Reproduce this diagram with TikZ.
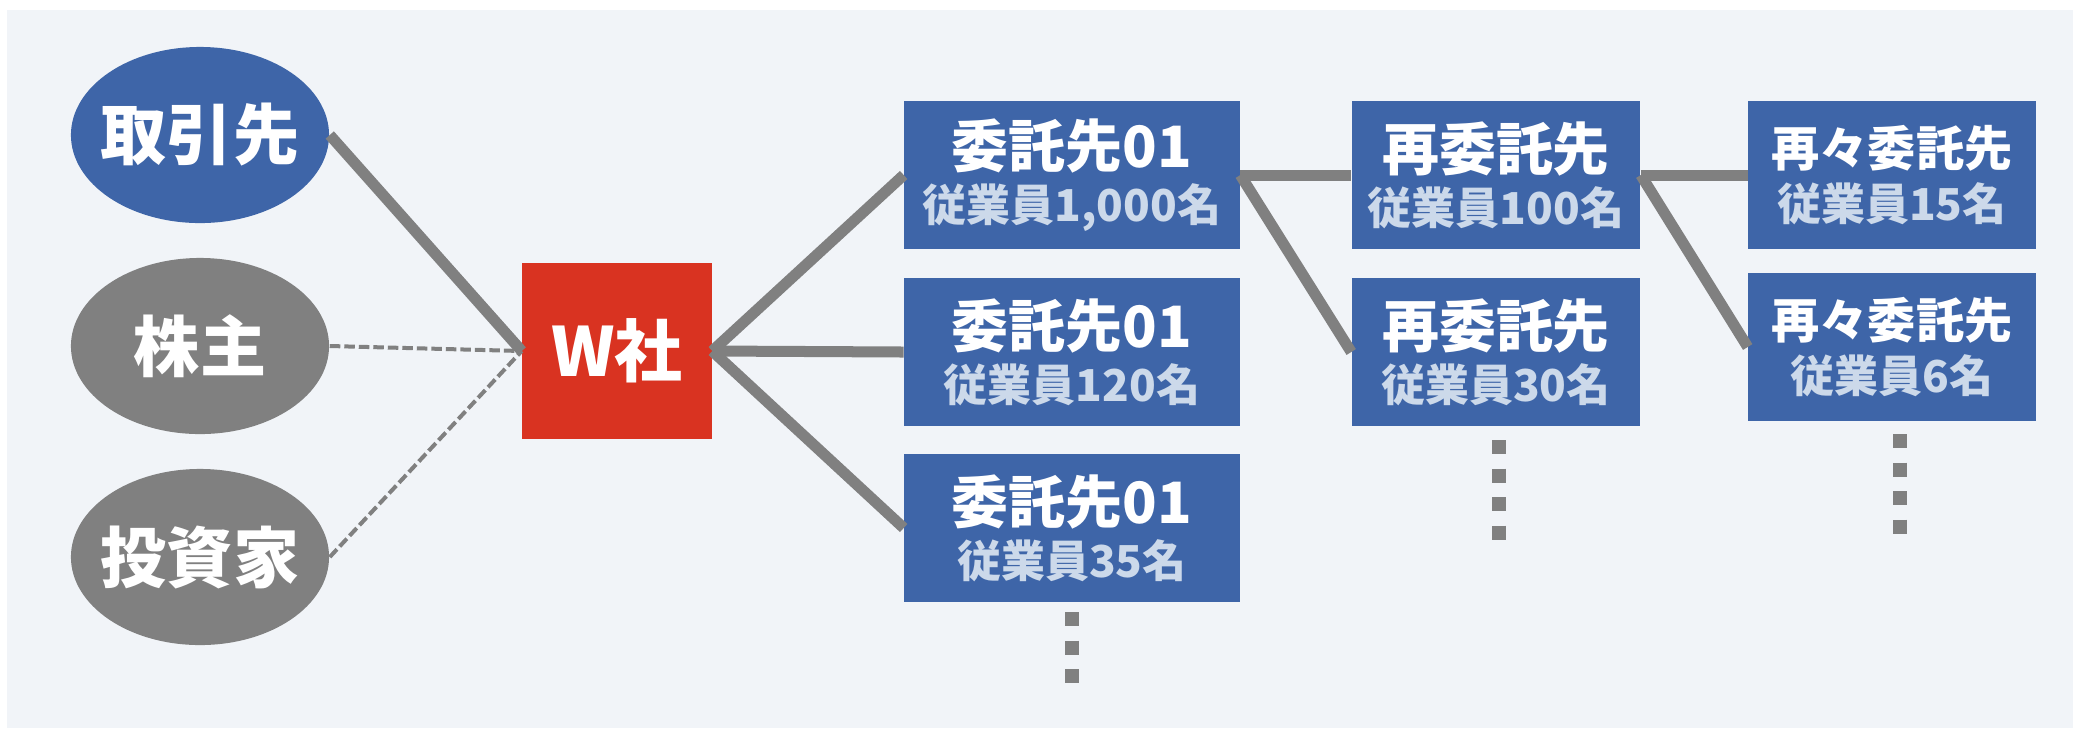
\documentclass[tikz,border=0pt]{standalone}
\usepackage{fontspec}
\setmainfont{Noto Sans CJK JP}
\usetikzlibrary{shapes.geometric}

\definecolor{haikei}{HTML}{F1F4F8}
\definecolor{aoi}{HTML}{3E65A8}
\definecolor{akai}{HTML}{D93321}
\definecolor{hai}{HTML}{808080}
\definecolor{usuao}{HTML}{CCD9EA}

% title line + staff line
\newcommand{\itakusaki}[3][16.2pt]{{\fontsize{#1}{15.4pt}\selectfont #2}\\{\color{usuao}#3}}
% text that does not widen the ellipse
\newcommand{\naka}[1]{\makebox[0pt]{#1}}

\begin{document}
\begin{tikzpicture}[
  x=0.01cm,y=-0.01cm,
  party/.style={ellipse,fill=#1,text=white,minimum width=2.58cm,minimum height=1.76cm,inner sep=0pt,font=\bfseries\fontsize{18.8pt}{22pt}\selectfont},
  company/.style={fill=akai,text=white,minimum width=1.89cm,minimum height=1.76cm,inner sep=0pt,font=\bfseries\fontsize{19.3pt}{22pt}\selectfont},
  contractor/.style={fill=aoi,text=white,minimum width=#1,minimum height=1.48cm,inner sep=0pt,align=center,font=\bfseries\fontsize{12.5pt}{15.4pt}\selectfont},
  contractor/.default=3.35cm,
  link/.style={hai,line width=0.11cm},
  weaklink/.style={hai,line width=0.04cm,dash pattern=on 0.105cm off 0.04cm},
  more/.style={hai,line width=0.14cm,dash pattern=on 0.14cm off 0.145cm}
]
  \useasboundingbox (0,0) rectangle (2084,738);
  \fill[haikei] (7,10) rectangle (2073,728);

  \node[party=aoi] (torihiki) at (200,135) {\naka{取引先}};
  \node[party=hai] (kabunushi) at (200,346) {\naka{株主}};
  \node[party=hai] (toshika) at (200,557) {\naka{投資家}};
  \node[company] (wsha) at (617,351) {W社};

  \node[contractor] (itaku1) at (1072,175) {\itakusaki{委託先01}{従業員1,000名}};
  \node[contractor] (itaku2) at (1072,352) {\itakusaki{委託先01}{従業員120名}};
  \node[contractor] (itaku3) at (1072,528) {\itakusaki{委託先01}{従業員35名}};
  \node[contractor=2.88cm] (sai1) at (1496,175) {\itakusaki{再委託先}{従業員100名}};
  \node[contractor=2.88cm] (sai2) at (1496,352) {\itakusaki{再委託先}{従業員30名}};
  \node[contractor=2.87cm] (saisai1) at (1892,175) {\itakusaki[13.7pt]{再々委託先}{従業員15名}};
  \node[contractor=2.87cm] (saisai2) at (1892,347) {\itakusaki[13.7pt]{再々委託先}{従業員6名}};

  \draw[link] (torihiki.east) -- (wsha.west);
  \draw[weaklink] (kabunushi.east) -- (wsha.west);
  \draw[weaklink] (toshika.east) -- (wsha.west);
  \foreach \n in {itaku1,itaku2,itaku3} \draw[link] (wsha.east) -- (\n.west);
  \draw[link] (itaku1.east) -- (sai1.west);
  \draw[link] (itaku1.east) -- (sai2.west);
  \draw[link] (sai1.east) -- (saisai1.west);
  \draw[link] (sai1.east) -- (saisai2.west);

  \draw[more] (1072,612) -- (1072,683);
  \draw[more] (1499,440) -- (1499,539.5);
  \draw[more] (1900,434) -- (1900,533.5);
\end{tikzpicture}
\end{document}
